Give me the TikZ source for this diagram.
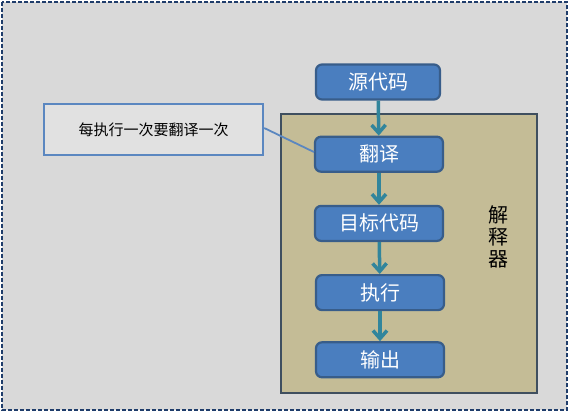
\documentclass[tikz,border=0pt]{standalone}
\usepackage{fontspec}
\setmainfont{Noto Sans CJK SC}
\usepackage{tikz}
\usetikzlibrary{arrows.meta,positioning}
\definecolor{bgray}{HTML}{D9D9D9}
\definecolor{frameblue}{HTML}{1F3D6B}
\definecolor{tan}{HTML}{C4BC96}
\definecolor{tanedge}{HTML}{3F4F5F}
\definecolor{stepblue}{HTML}{4A7EBF}
\definecolor{stepedge}{HTML}{385D8A}
\definecolor{teal}{HTML}{31859C}
\definecolor{noteedge}{HTML}{5B87C0}
\tikzset{
  stepbox/.style={
    draw=stepedge, fill=stepblue, rounded corners=6pt, line width=2.2pt,
    font=\fontsize{20}{22}\selectfont, text=white, align=center,
    minimum width=128pt, minimum height=35pt, inner sep=2pt,
  },
  flow/.style={-{Straight Barb[length=8pt,width=14pt,line width=3.5pt]}, line width=3.5pt, color=teal},
  note/.style={draw=noteedge, fill=bgray!80!white, line width=2.4pt,
    font=\fontsize{15}{17}\selectfont, minimum width=219pt, minimum height=51pt},
}
\begin{document}
\begin{tikzpicture}[x=1pt,y=-1pt,node distance=32pt]
  \useasboundingbox (0,0) rectangle (570,413);
  \draw[frameblue, fill=bgray, line width=2.2pt, dash pattern=on 4pt off 2pt] (2,2) rectangle (567,410);

  % interpreter frame
  \node[draw=tanedge, fill=tan, line width=2.4pt,
        minimum width=256pt, minimum height=279pt] (interp) at (409,253.5) {};
  \node[font=\fontsize{20}{22}\selectfont, align=center] (interplbl) at (498,237)
    {解\\释\\器};

  % steps
  \node[stepbox, minimum width=124pt] (src) at (378,82) {源代码};
  \node[stepbox, below=35pt of src, xshift=1pt] (trans) {翻译};
  \node[stepbox, below=of trans] (target) {目标代码};
  \node[stepbox, below=of target, xshift=1pt] (exec) {执行};
  \node[stepbox, below=30pt of exec] (out) {输出};

  \draw[flow] (src) -- (trans);
  \draw[flow] (trans) -- (target);
  \draw[flow] (target) -- (exec);
  \draw[flow] (exec) -- (out);

  % annotation
  \node[note] (remark) at (153.5,129.5) {每执行一次要翻译一次};
  \draw[noteedge, line width=1.8pt] (remark.east |- 0,128) -- (trans.west |- 0,152);
\end{tikzpicture}
\end{document}
